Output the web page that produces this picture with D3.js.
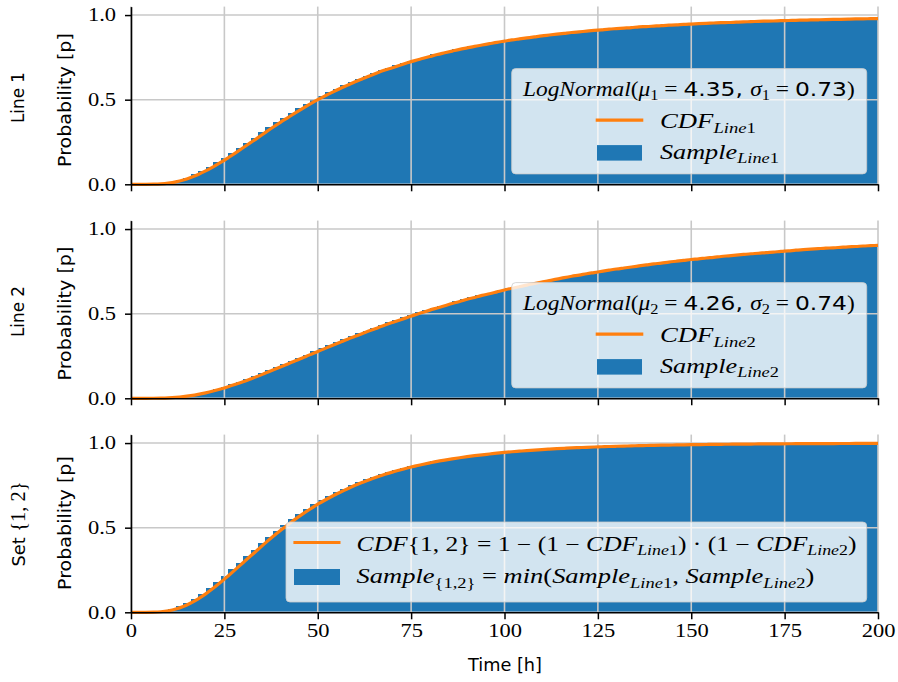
<!DOCTYPE html>
<html><head><meta charset="utf-8">
<script src="https://cdn.jsdelivr.net/npm/d3@7"></script>
<style>html,body{margin:0;padding:0;background:#fff;} svg{display:block;}</style>
</head><body><svg id="chart" width="898" height="682"></svg>
<script>
// ---------------- data ----------------
const xTickValues = [0, 25, 50, 75, 100, 125, 150, 175, 200];
const yTickValues = [0, 0.5, 1.0];
const binWidth = 2; // hours per histogram bin; values below are at x = 0, 2, 4, ... 200
const line1Cdf = [0,
  0,0,0.0006,0.0024,0.0067,0.014,0.025,0.040,0.058,0.079,
  0.103,0.129,0.157,0.186,0.216,0.246,0.276,0.307,0.337,0.366,
  0.394,0.422,0.449,0.475,0.5,
  0.523,0.545,0.566,0.586,0.606, 0.624,0.642,0.659,0.675,0.689,
  0.704,0.718,0.731,0.743,0.755, 0.767,0.777,0.787,0.797,0.806,
  0.815,0.823,0.831,0.839,0.846, 0.853,0.859,0.865,0.871,0.877,
  0.882,0.887,0.892,0.897,0.901, 0.905,0.909,0.913,0.917,0.920,
  0.923,0.926,0.930,0.932,0.935, 0.938,0.940,0.942,0.945,0.947,
  0.949,0.951,0.953,0.955,0.956, 0.958,0.960,0.961,0.963,0.964,
  0.965,0.967,0.968,0.969,0.970, 0.971,0.972,0.973,0.974,0.975,
  0.976,0.977,0.978,0.9785,0.979];
const line2Cdf = [0,
  0,0,0.0002,0.001,0.0026,0.0054,0.0097,0.0157,0.0232,0.0324,
  0.0431,0.0551,0.0684,0.0829,0.0982,0.1145,0.131,0.149,0.167,0.185,
  0.203,0.222,0.240,0.258,0.277,
  0.295,0.313,0.331,0.349,0.366, 0.383,0.400,0.416,0.433,0.448,
  0.463,0.478,0.493,0.507,0.521, 0.534,0.547,0.560,0.572,0.585,
  0.596,0.608,0.618,0.629,0.640, 0.650,0.659,0.669,0.678,0.687,
  0.696,0.704,0.713,0.721,0.728, 0.736,0.743,0.750,0.757,0.764,
  0.770,0.776,0.782,0.788,0.794, 0.799,0.805,0.810,0.815,0.820,
  0.824,0.829,0.833,0.838,0.842, 0.846,0.850,0.854,0.857,0.861,
  0.864,0.868,0.871,0.875,0.878, 0.881,0.884,0.887,0.889,0.892,
  0.895,0.897,0.900,0.902,0.904];
const setCdf = [0,
  0,0,0.0008,0.0034,0.0093,0.0193,0.0345,0.0551,0.0799,0.1088,
  0.1417,0.177,0.2147,0.2535,0.293,0.3323,0.3708,0.4103,0.4477,0.4833,
  0.517,0.5503,0.5812,0.6104,0.6385,
  0.6637,0.6874,0.7097,0.7305,0.7502, 0.768,0.7852,0.8009,0.8157,0.8283,
  0.841,0.8528,0.8636,0.8733,0.8826, 0.8914,0.899,0.9063,0.9131,0.9195,
  0.9253,0.9306,0.9354,0.9403,0.9446, 0.9485,0.9519,0.9553,0.9585,0.9615,
  0.9641,0.9666,0.969,0.9713,0.9731, 0.9749,0.9766,0.9782,0.9798,0.9811,
  0.9823,0.9834,0.9847,0.9856,0.9866, 0.9875,0.9883,0.989,0.9898,0.9905,
  0.991,0.9916,0.9922,0.9927,0.993, 0.9935,0.994,0.9943,0.9947,0.995,
  0.9952,0.9956,0.9959,0.9961,0.9963, 0.9965,0.9968,0.9969,0.9971,0.9973,
  0.9975,0.9976,0.9978,0.9979,0.998];
const muValues = [4.35, 4.26];
const sigmaValues = [0.73, 0.74];
const rowLabels = ["Line 1", "Line 2", "Set"];
const yLabel = "Probability [p]";
const xLabel = "Time [h]";

// ---------------- style / layout ----------------
const SERIF = "'Liberation Serif','DejaVu Serif',serif";
const SANS = "'DejaVu Sans',sans-serif";
const BLUE = "#1f77b4", ORANGE = "#ff7f0e", GRID = "#c8c8c8";
const left = 131, right = 878;
const tops = [6.6, 220.6, 434.6], ph = 177.7;
const svg = d3.select("#chart");
const x = d3.scaleLinear().domain([0, 200]).range([left, right]);

function rich(parent, segs, o) {
  const size = o.size;
  const g = parent.append("g");
  const t = g.append("text").style("white-space", "pre").attr("fill", "#000");
  let shift = 0;
  for (const [s, kind] of segs) {
    const sub = kind.startsWith("sub");
    const sp = t.append("tspan").text(s)
      .attr("font-family", kind === "sf" ? SANS : SERIF)
      .attr("font-style", (kind === "mi" || kind === "subi") ? "italic" : "normal")
      .attr("font-size", sub ? size * 0.7 : (kind === "big" ? size * 1.15 : size));
    const want = sub ? size * 0.24 : 0;
    if (want !== shift) { sp.attr("dy", want - shift); shift = want; }
  }
  const bb = t.node().getBBox();
  const k = o.width ? o.width / bb.width : 1;
  const W = o.width || bb.width;
  const off = o.anchor === "middle" ? -W / 2 : 0;
  t.attr("transform", `translate(${off},0) scale(${k},1) translate(${-bb.x},0)`);
  g.attr("transform", `translate(${o.x},${o.y}) rotate(${o.rotate || 0})`);
  return g;
}

const panels = [
  { cdf: line1Cdf, idx: 0, labelY: [97.5, 100] },
  { cdf: line2Cdf, idx: 1, labelY: [311.5, 313.5] },
  { cdf: setCdf, idx: 2, labelY: [524, 523] }
];

panels.forEach((p, pi) => {
  const top = tops[pi];
  const y = d3.scaleLinear().domain([0, 1.05]).range([top + ph, top]);
  const g = svg.append("g");

  // histogram bars (cumulative sample)
  const bins = p.cdf.slice(1).map((v, i) => ({ x0: i * binWidth, x1: (i + 1) * binWidth, v }));
  g.append("g").attr("shape-rendering", "crispEdges")
    .selectAll("rect").data(bins).join("rect")
    .attr("x", d => x(d.x0))
    .attr("width", (d, i) => x(d.x1) - x(d.x0) + (i === bins.length - 1 ? 0 : 1))
    .attr("y", d => y(d.v)).attr("height", d => y(0) - y(d.v))
    .attr("fill", BLUE);

  // grid (above bars)
  const gg = g.append("g").attr("stroke", GRID).attr("stroke-width", 1.6);
  gg.selectAll("line.v").data(xTickValues).join("line").attr("class", "v")
    .attr("x1", d => x(d)).attr("x2", d => x(d)).attr("y1", top).attr("y2", y(0));
  gg.selectAll("line.h").data(yTickValues).join("line").attr("class", "h")
    .attr("x1", left).attr("x2", right).attr("y1", d => y(d)).attr("y2", d => y(d));

  // CDF line
  const pts = p.cdf.map((v, i) => [i * binWidth, v]);
  g.append("path").datum(pts)
    .attr("d", d3.line().x(d => x(d[0])).y(d => y(d[1])).curve(d3.curveMonotoneX))
    .attr("fill", "none").attr("stroke", ORANGE).attr("stroke-width", 3.2)
    .attr("stroke-linejoin", "round");

  // axes
  const ya = g.append("g").attr("transform", `translate(${left},0)`)
    .call(d3.axisLeft(y).tickValues(yTickValues).tickFormat(d3.format(".1f"))
      .tickSize(6).tickPadding(6).tickSizeOuter(0));
  const xa = g.append("g").attr("transform", `translate(0,${y(0)})`)
    .call(d3.axisBottom(x).tickValues(xTickValues)
      .tickFormat(pi === 2 ? d3.format("d") : () => "")
      .tickSize(7).tickPadding(5).tickSizeOuter(0));
  [ya, xa].forEach(a => {
    a.select(".domain").attr("stroke", "#000").attr("stroke-width", 1.6);
    a.selectAll(".tick line").attr("stroke", "#000").attr("stroke-width", 1.5);
    a.selectAll(".tick text").attr("font-family", SERIF).attr("font-size", 18)
      .attr("fill", "#000").attr("transform", "scale(1.25,1)");
  });

  // y labels
  rich(svg, [[yLabel, "sf"]], { x: 71, y: p.labelY[1], size: 18.5, anchor: "middle", width: 134, rotate: -90 });
  if (pi < 2) {
    rich(svg, [[rowLabels[pi], "sf"]], { x: 24, y: p.labelY[0], size: 18.5, anchor: "middle", width: 51, rotate: -90 });
  } else {
    rich(svg, [[rowLabels[pi] + " ", "sf"], ["{1, 2}", "big"]], { x: 25, y: p.labelY[0], size: 18.5, anchor: "middle", width: 85, rotate: -90 });
  }

  // legend
  const lg = svg.append("g");
  if (pi < 2) {
    const bx = 511.7, by = top + 62, bw = 355, bh = 105.3;
    lg.append("rect").attr("x", bx).attr("y", by).attr("width", bw).attr("height", bh)
      .attr("rx", 4).attr("fill", "#fff").attr("fill-opacity", 0.8)
      .attr("stroke", "#cccccc").attr("stroke-opacity", 0.8).attr("stroke-width", 1);
    const n = String(pi + 1);
    rich(lg, [["LogNormal", "mi"], ["(", "mr"], ["μ", "mi"], [n, "subr"], [" = ", "mr"],
      [muValues[pi].toFixed(2) + ", ", "sf"], ["σ", "mi"], [n, "subr"], [" = ", "mr"],
      [sigmaValues[pi].toFixed(2), "sf"], [")", "mr"]],
      { x: 688.3, y: by + 27, size: 20, anchor: "middle", width: 333 });
    lg.append("line").attr("x1", 595.7).attr("x2", 643.3).attr("y1", by + 51.5).attr("y2", by + 51.5)
      .attr("stroke", ORANGE).attr("stroke-width", 3.2);
    rich(lg, [["CDF", "mi"], ["Line", "subi"], [n, "subr"]], { x: 660, y: by + 59.5, size: 20, width: 96 });
    lg.append("rect").attr("x", 597).attr("y", by + 76.5).attr("width", 45).attr("height", 15.5).attr("fill", BLUE);
    rich(lg, [["Sample", "mi"], ["Line", "subi"], [n, "subr"]], { x: 660, y: by + 90, size: 20, width: 119 });
  } else {
    const bx = 286, by = 522, bw = 580.7, bh = 80;
    lg.append("rect").attr("x", bx).attr("y", by).attr("width", bw).attr("height", bh)
      .attr("rx", 4).attr("fill", "#fff").attr("fill-opacity", 0.8)
      .attr("stroke", "#cccccc").attr("stroke-opacity", 0.8).attr("stroke-width", 1);
    const M = "\u2212";
    lg.append("line").attr("x1", 293.4).attr("x2", 340.5).attr("y1", by + 20.5).attr("y2", by + 20.5)
      .attr("stroke", ORANGE).attr("stroke-width", 3.2);
    rich(lg, [["CDF", "mi"], ["{1, 2} = 1 " + M + " (1 " + M + " ", "mr"], ["CDF", "mi"], ["Line", "subi"], ["1", "subr"],
      [") · (1 " + M + " ", "mr"], ["CDF", "mi"], ["Line", "subi"], ["2", "subr"], [")", "mr"]],
      { x: 356.6, y: by + 28.5, size: 20, width: 500 });
    lg.append("rect").attr("x", 294).attr("y", by + 47).attr("width", 46).attr("height", 16).attr("fill", BLUE);
    rich(lg, [["Sample", "mi"], ["{1,2}", "subr"], [" = ", "mr"], ["min", "mi"], ["(", "mr"],
      ["Sample", "mi"], ["Line", "subi"], ["1", "subr"], [", ", "mr"], ["Sample", "mi"], ["Line", "subi"], ["2", "subr"], [")", "mr"]],
      { x: 356.6, y: by + 61, size: 20, width: 458 });
  }
});

// x label
rich(svg, [[xLabel, "sf"]], { x: (left + right) / 2, y: 670.5, size: 18.5, anchor: "middle", width: 75 });
</script>
</body></html>
